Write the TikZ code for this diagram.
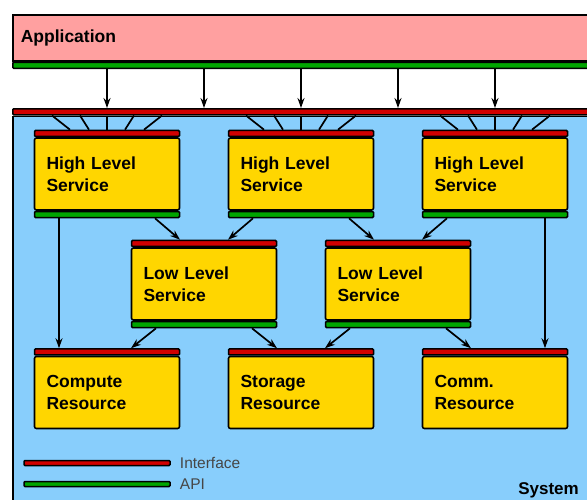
\documentclass[tikz,border=0pt]{standalone}
\usepackage{fontspec}
\setmainfont{Liberation Sans}
\usetikzlibrary{positioning,calc,arrows.meta}
\definecolor{apppink}{RGB}{255,160,160}
\definecolor{sysblue}{RGB}{136,206,252}
\definecolor{unityellow}{RGB}{255,214,0}
\definecolor{ifred}{RGB}{210,0,0}
\definecolor{apigreen}{RGB}{0,165,0}
\definecolor{keygray}{RGB}{70,70,70}
\tikzset{
  unit/.style={draw, line width=1.6pt, fill=unityellow, rounded corners=2pt,
    minimum width=145pt, minimum height=72pt, text width=121pt, align=left,
    inner sep=0pt, font=\fontsize{17.5}{22}\selectfont\bfseries},
  ifbar/.style={draw, line width=1.5pt, fill=ifred, minimum height=6pt,
    inner sep=0pt, rounded corners=1pt},
  apibar/.style={ifbar, fill=apigreen},
  arr/.style={-{Stealth[length=10pt,width=7pt]}, line width=1.7pt},
  fan/.style={line width=1.7pt},
}
\newcommand{\unitbox}[3] {\node at (#1) (#2) [unit] {#3};
  \node [ifbar, minimum width=145pt, above=0pt of #2] (#2-if) {};}
\newcommand{\unitapi}[1] {\node [apibar, minimum width=145pt, below=0pt of #1] (#1-api) {};}
\newcommand{\unitlink}[4] {\draw [arr] ($(#1-api.south)+(#2,0)$) -- ($(#3-if.north)+(#4,0)$);}

\begin{document}
\begin{tikzpicture}[x=1pt,y=-1pt]
\useasboundingbox (0,0) rectangle (587,499);

% application layer
\node at (12,14) (app) [anchor=north west, draw, line width=1.5pt, fill=apppink,
  minimum width=620pt, minimum height=46pt, text width=604pt, inner sep=0pt,
  inner xsep=8pt, align=left, font=\fontsize{17.5}{22}\selectfont\bfseries] {Application};
\node [apibar, minimum width=620pt, below=0pt of app] (appapi) {};

% system
\node at (12,108) (sysif) [ifbar, anchor=north west, minimum width=620pt] {};
\node [below=0pt of sysif, draw, line width=1.5pt, fill=sysblue,
  minimum width=620pt, minimum height=420pt, inner sep=0pt] (sys) {};
\node at (579,494) (syslabel) [anchor=base east, inner sep=0pt,
  font=\fontsize{17}{20}\selectfont\bfseries] {System};

% units
\unitbox {107,174} {hla} {High Level\\Service};
\unitbox {301,174} {hlb} {High Level\\Service};
\unitbox {495,174} {hlc} {High Level\\Service};
\unitapi {hla};
\unitapi {hlb};
\unitapi {hlc};
\unitbox {204,284} {lla} {Low Level\\Service};
\unitbox {398,284} {llb} {Low Level\\Service};
\unitapi {lla};
\unitapi {llb};
\unitbox {107,392.5} {cres} {Compute\\Resource};
\unitbox {301,392.5} {sres} {Storage\\Resource};
\unitbox {495,392.5} {mres} {Comm.\\Resource};

% calls from the application
\foreach \svc in {hla,lla,hlb,llb,hlc}
  \draw [arr] (\svc |- appapi.south) -- (\svc |- sysif.north);

% fan into the high level services
\foreach \svc in {hla,hlb,hlc}
  \foreach \t/\b in {-55/-37,-27/-18,0/0,27/18,55/37}
    \draw [fan] ($(\svc-if.north |- sysif.south)+(\t,0)$) -- ($(\svc-if.north)+(\b,0)$);

\unitlink {hla}{-48}{cres}{-48};
\unitlink {hla}{48}{lla}{-24};
\unitlink {hlb}{-48}{lla}{24};
\unitlink {hlb}{48}{llb}{-24};
\unitlink {hlc}{-48}{llb}{24};
\unitlink {hlc}{50}{mres}{50};
\unitlink {lla}{-48}{cres}{24};
\unitlink {lla}{48}{sres}{-24};
\unitlink {llb}{-48}{sres}{24};
\unitlink {llb}{48}{mres}{-24};

% legend
\node at (97,463) (ifkey) [ifbar, minimum width=146pt, minimum height=5pt] {};
\node [right=9pt of ifkey, inner sep=0pt, text=keygray,
  font=\fontsize{15.5}{18}\selectfont] (iftext) {Interface};
\node at (97,484) (apikey) [apibar, minimum width=146pt, minimum height=5pt] {};
\node [right=9pt of apikey, inner sep=0pt, text=keygray,
  font=\fontsize{15.5}{18}\selectfont] (apitext) {API};
\end{tikzpicture}
\end{document}
